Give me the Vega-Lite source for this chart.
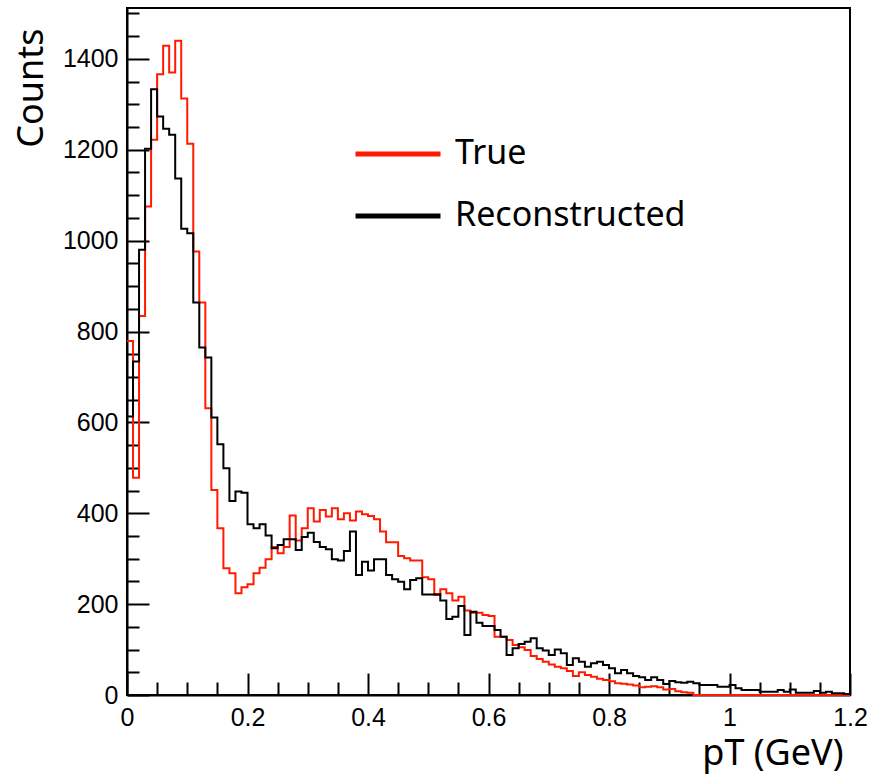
{
  "$schema": "https://vega.github.io/schema/vega-lite/v6.json",
  "width": 723,
  "height": 687,
  "autosize": {"type": "none"},
  "padding": {"left": 127, "top": 8, "right": 19, "bottom": 79},
  "background": "white",
  "config": {
    "view": {"stroke": "#000", "strokeWidth": 2},
    "axis": {"grid": false, "domainColor": "#000", "domainWidth": 2, "tickColor": "#000", "tickWidth": 2, "labelColor": "#000", "labelFont": "Liberation Sans", "labelFontSize": 25, "labelOverlap": false, "labelFlush": false, "labelBound": false, "titleFont": "Noto Sans", "titleFontSize": 36, "titleFontWeight": "normal", "titleColor": "#000"}
  },
  "data": {"values": [
    {"pT":0.00,"True":779,"Reconstructed":613},{"pT":0.01,"True":478,"Reconstructed":734},{"pT":0.02,"True":834,"Reconstructed":980},{"pT":0.03,"True":1075,"Reconstructed":1202},{"pT":0.04,"True":1222,"Reconstructed":1333},
    {"pT":0.05,"True":1366,"Reconstructed":1273},{"pT":0.06,"True":1429,"Reconstructed":1246},{"pT":0.07,"True":1370,"Reconstructed":1233},{"pT":0.08,"True":1440,"Reconstructed":1137},{"pT":0.09,"True":1313,"Reconstructed":1026},
    {"pT":0.10,"True":1213,"Reconstructed":1016},{"pT":0.11,"True":976,"Reconstructed":864},{"pT":0.12,"True":864,"Reconstructed":765},{"pT":0.13,"True":631,"Reconstructed":743},{"pT":0.14,"True":451,"Reconstructed":611},
    {"pT":0.15,"True":367,"Reconstructed":552},{"pT":0.16,"True":279,"Reconstructed":499},{"pT":0.17,"True":268,"Reconstructed":427},{"pT":0.18,"True":224,"Reconstructed":448},{"pT":0.19,"True":237,"Reconstructed":445},
    {"pT":0.20,"True":244,"Reconstructed":376},{"pT":0.21,"True":268,"Reconstructed":367},{"pT":0.22,"True":280,"Reconstructed":376},{"pT":0.23,"True":299,"Reconstructed":351},{"pT":0.24,"True":326,"Reconstructed":323},
    {"pT":0.25,"True":312,"Reconstructed":330},{"pT":0.26,"True":326,"Reconstructed":343},{"pT":0.27,"True":395,"Reconstructed":343},{"pT":0.28,"True":340,"Reconstructed":319},{"pT":0.29,"True":367,"Reconstructed":348},
    {"pT":0.30,"True":411,"Reconstructed":357},{"pT":0.31,"True":382,"Reconstructed":337},{"pT":0.32,"True":407,"Reconstructed":326},{"pT":0.33,"True":393,"Reconstructed":321},{"pT":0.34,"True":411,"Reconstructed":299},
    {"pT":0.35,"True":387,"Reconstructed":296},{"pT":0.36,"True":400,"Reconstructed":317},{"pT":0.37,"True":384,"Reconstructed":360},{"pT":0.38,"True":404,"Reconstructed":264},{"pT":0.39,"True":398,"Reconstructed":293},
    {"pT":0.40,"True":394,"Reconstructed":274},{"pT":0.41,"True":387,"Reconstructed":299},{"pT":0.42,"True":360,"Reconstructed":299},{"pT":0.43,"True":336,"Reconstructed":264},{"pT":0.44,"True":336,"Reconstructed":255},
    {"pT":0.45,"True":306,"Reconstructed":249},{"pT":0.46,"True":301,"Reconstructed":233},{"pT":0.47,"True":296,"Reconstructed":253},{"pT":0.48,"True":296,"Reconstructed":257},{"pT":0.49,"True":259,"Reconstructed":221},
    {"pT":0.50,"True":255,"Reconstructed":221},{"pT":0.51,"True":220,"Reconstructed":222},{"pT":0.52,"True":233,"Reconstructed":208},{"pT":0.53,"True":224,"Reconstructed":167},{"pT":0.54,"True":208,"Reconstructed":172},
    {"pT":0.55,"True":216,"Reconstructed":196},{"pT":0.56,"True":186,"Reconstructed":132},{"pT":0.57,"True":181,"Reconstructed":183},{"pT":0.58,"True":181,"Reconstructed":159},{"pT":0.59,"True":176,"Reconstructed":152},
    {"pT":0.60,"True":174,"Reconstructed":152},{"pT":0.61,"True":128,"Reconstructed":143},{"pT":0.62,"True":128,"Reconstructed":128},{"pT":0.63,"True":121,"Reconstructed":88},{"pT":0.64,"True":110,"Reconstructed":103},
    {"pT":0.65,"True":105,"Reconstructed":112},{"pT":0.66,"True":99,"Reconstructed":117},{"pT":0.67,"True":86,"Reconstructed":125},{"pT":0.68,"True":79,"Reconstructed":103},{"pT":0.69,"True":73,"Reconstructed":98},
    {"pT":0.70,"True":67,"Reconstructed":88},{"pT":0.71,"True":62,"Reconstructed":100},{"pT":0.72,"True":59,"Reconstructed":92},{"pT":0.73,"True":53,"Reconstructed":66},{"pT":0.74,"True":42,"Reconstructed":81},
    {"pT":0.75,"True":50,"Reconstructed":73},{"pT":0.76,"True":44,"Reconstructed":62},{"pT":0.77,"True":40,"Reconstructed":70},{"pT":0.78,"True":36,"Reconstructed":73},{"pT":0.79,"True":33,"Reconstructed":66},
    {"pT":0.80,"True":30,"Reconstructed":59},{"pT":0.81,"True":26,"Reconstructed":48},{"pT":0.82,"True":25,"Reconstructed":55},{"pT":0.83,"True":23,"Reconstructed":48},{"pT":0.84,"True":21,"Reconstructed":42},
    {"pT":0.85,"True":17,"Reconstructed":39},{"pT":0.86,"True":18,"Reconstructed":33},{"pT":0.87,"True":19,"Reconstructed":39},{"pT":0.88,"True":17,"Reconstructed":33},{"pT":0.89,"True":12,"Reconstructed":24},
    {"pT":0.90,"True":13,"Reconstructed":31},{"pT":0.91,"True":8,"Reconstructed":28},{"pT":0.92,"True":6,"Reconstructed":27},{"pT":0.93,"True":5,"Reconstructed":29},{"pT":0.94,"True":0,"Reconstructed":26},
    {"pT":0.95,"True":0,"Reconstructed":22},{"pT":0.96,"True":0,"Reconstructed":22},{"pT":0.97,"True":0,"Reconstructed":22},{"pT":0.98,"True":0,"Reconstructed":18},{"pT":0.99,"True":0,"Reconstructed":18},
    {"pT":1.00,"True":0,"Reconstructed":22},{"pT":1.01,"True":0,"Reconstructed":15},{"pT":1.02,"True":0,"Reconstructed":11},{"pT":1.03,"True":0,"Reconstructed":11},{"pT":1.04,"True":0,"Reconstructed":11},
    {"pT":1.05,"True":0,"Reconstructed":7},{"pT":1.06,"True":0,"Reconstructed":7},{"pT":1.07,"True":0,"Reconstructed":7},{"pT":1.08,"True":0,"Reconstructed":11},{"pT":1.09,"True":0,"Reconstructed":7},
    {"pT":1.10,"True":0,"Reconstructed":12},{"pT":1.11,"True":0,"Reconstructed":5},{"pT":1.12,"True":0,"Reconstructed":5},{"pT":1.13,"True":0,"Reconstructed":5},{"pT":1.14,"True":0,"Reconstructed":9},
    {"pT":1.15,"True":0,"Reconstructed":5},{"pT":1.16,"True":0,"Reconstructed":7},{"pT":1.17,"True":0,"Reconstructed":4},{"pT":1.18,"True":0,"Reconstructed":4},{"pT":1.19,"True":0,"Reconstructed":2},
    {"pT":1.20,"True":0,"Reconstructed":2}
  ]},
  "transform": [{"fold": ["True", "Reconstructed"], "as": ["series", "counts"]}],
  "mark": {"type": "line", "interpolate": "step-after", "strokeWidth": 2},
  "encoding": {
    "x": {
      "field": "pT", "type": "quantitative",
      "scale": {"domain": [0, 1.2], "nice": false, "zero": false},
      "axis": {
        "values": [0,0.05,0.1,0.15,0.2,0.25,0.3,0.35,0.4,0.45,0.5,0.55,0.6,0.65,0.7,0.75,0.8,0.85,0.9,0.95,1,1.05,1.1,1.15,1.2],
        "labelExpr": "abs(datum.value*5 - round(datum.value*5)) < 0.001 ? format(datum.value, '~g') : ''",
        "tickSize": {"condition": {"test": "abs(datum.value*5 - round(datum.value*5)) < 0.001", "value": -22}, "value": -13},
        "labelPadding": 32,
        "labelBaseline": "top",
        "title": "pT (GeV)",
        "titleAnchor": "end", "titleAlign": "right", "titleBaseline": "alphabetic",
        "titleX": 716, "titleY": 69
      }
    },
    "y": {
      "field": "counts", "type": "quantitative",
      "scale": {"domain": [0, 1512], "nice": false},
      "axis": {
        "values": [0,50,100,150,200,250,300,350,400,450,500,550,600,650,700,750,800,850,900,950,1000,1050,1100,1150,1200,1250,1300,1350,1400,1450,1500],
        "labelExpr": "datum.value % 200 === 0 ? format(datum.value, 'd') : ''",
        "tickSize": {"condition": {"test": "datum.value % 200 === 0", "value": -22}, "value": -12},
        "labelPadding": 31,
        "title": "Counts",
        "titleAngle": -90,
        "titleAnchor": "end", "titleAlign": "right", "titleBaseline": "alphabetic",
        "titleX": -85, "titleY": 20
      }
    },
    "color": {
      "field": "series", "type": "nominal",
      "scale": {"domain": ["True", "Reconstructed"], "range": ["#ff1a00", "#000000"]},
      "legend": {
        "orient": "none", "legendX": 226, "legendY": 101, "title": null,
        "symbolType": "stroke", "symbolSize": 7225, "symbolStrokeWidth": 5,
        "labelFont": "Noto Sans", "labelFontSize": 34, "labelColor": "#000", "labelLimit": 0,
        "labelOffset": 12, "rowPadding": -34, "padding": 0
      }
    }
  }
}
